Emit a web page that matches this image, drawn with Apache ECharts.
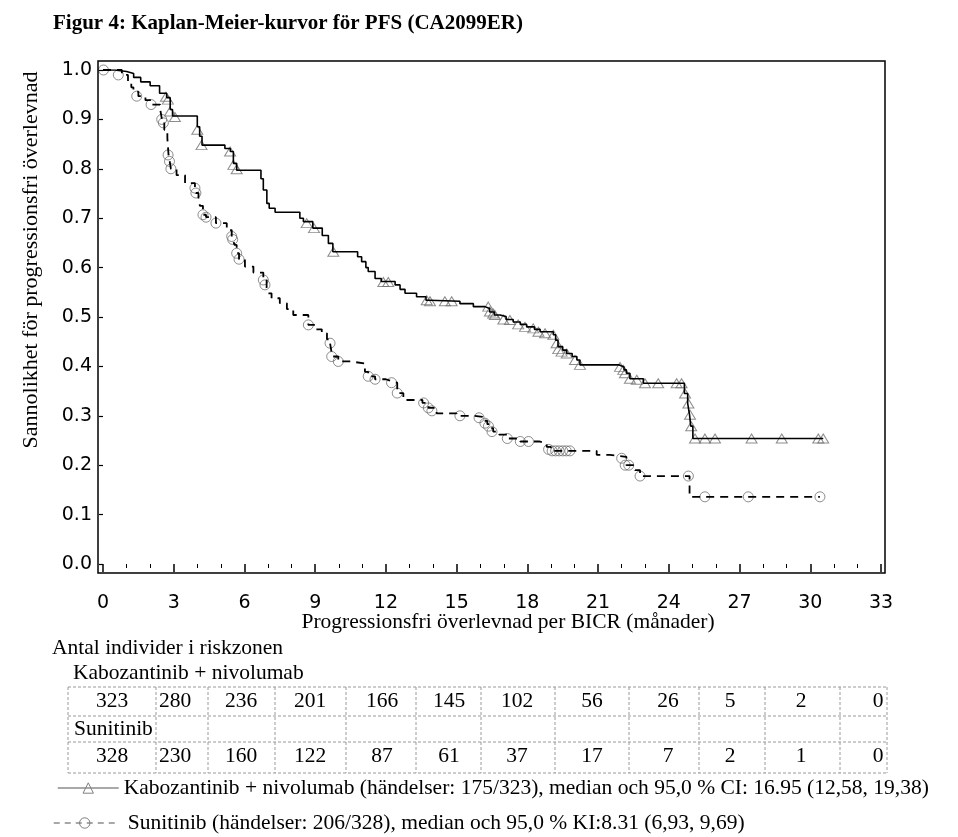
<!DOCTYPE html>
<html><head><meta charset="utf-8">
<script src="https://cdn.jsdelivr.net/npm/echarts@6/dist/echarts.min.js"></script>
<style>html,body{margin:0;padding:0;background:#fff}#c{width:958px;height:837px}</style>
</head><body><div id="c"></div>
<script>
// ---- data ----
const titleText = 'Figur 4: Kaplan-Meier-kurvor för PFS (CA2099ER)';
const yTitle = 'Sannolikhet för progressionsfri överlevnad';
const xTitle = 'Progressionsfri överlevnad per BICR (månader)';
const kaboName = 'Kabozantinib + nivolumab (händelser: 175/323), median och 95,0 % CI: 16.95 (12,58, 19,38)';
const suniName = 'Sunitinib (händelser: 206/328), median och 95,0 % KI:8.31 (6,93, 9,69)';
const kaboLabel = 'Kabozantinib + nivolumab';
const suniLabel = 'Sunitinib';
const riskTitle = 'Antal individer i riskzonen';
const riskTimes = [0,3,6,9,12,15,18,21,24,27,30,33];
const kaboRisk = [323,280,236,201,166,145,102,56,26,5,2,0];
const suniRisk = [328,230,160,122,87,61,37,17,7,2,1,0];

// KM steps [month, survival]
const kaboSteps = [[0,1],[0.5,0.997],[1.0,0.993],[1.3,0.985],[1.6,0.976],[2.0,0.968],[2.4,0.953],[2.7,0.944],[2.85,0.92],[2.95,0.907],
[4.0,0.885],[4.1,0.866],[4.2,0.848],[5.17,0.841],[5.4,0.835],[5.53,0.811],[5.67,0.797],[6.7,0.78],[6.8,0.757],[6.95,0.73],[7.05,0.72],[7.3,0.712],
[8.35,0.70],[8.5,0.693],[8.9,0.68],[9.3,0.665],[9.56,0.649],[9.75,0.632],[10.8,0.622],[10.97,0.612],[11.15,0.60],[11.25,0.592],[11.54,0.578],
[11.8,0.572],[12.39,0.565],[12.6,0.556],[12.81,0.548],[13.3,0.541],[13.7,0.534],[13.85,0.532],[15.14,0.527],[15.71,0.521],[16.2,0.517],
[16.4,0.51],[16.6,0.504],[16.84,0.501],[17.1,0.495],[17.4,0.49],[17.7,0.485],[17.97,0.48],[18.3,0.475],[18.54,0.47],[19.1,0.464],[19.2,0.453],
[19.3,0.44],[19.5,0.433],[19.67,0.426],[19.9,0.42],[20.1,0.413],[20.23,0.403],[21.9,0.399],[22.1,0.393],[22.2,0.386],[22.35,0.375],[22.92,0.366],
[24.66,0.345],[24.8,0.325],[24.88,0.302],[24.93,0.279],[25.02,0.254],[30.55,0.254]];
const kaboCensored = [[2.67,0.946],[2.75,0.94],[2.84,0.916],[3.05,0.905],[4.0,0.879],[4.18,0.848],[5.39,0.835],[5.53,0.808],[5.67,0.799],
[8.64,0.69],[8.95,0.68],[9.77,0.632],[11.89,0.571],[12.1,0.571],[13.73,0.534],[13.87,0.532],[14.5,0.532],[14.79,0.532],[16.34,0.521],
[16.41,0.511],[16.55,0.507],[16.62,0.504],[16.98,0.495],[17.26,0.494],[17.61,0.485],[17.9,0.48],[18.25,0.477],[18.47,0.47],[18.75,0.467],
[19.1,0.464],[19.24,0.447],[19.31,0.435],[19.45,0.43],[19.67,0.426],[20.02,0.413],[20.23,0.403],[21.93,0.399],[22.07,0.393],[22.14,0.386],
[22.35,0.375],[22.64,0.373],[22.99,0.366],[23.55,0.366],[24.33,0.366],[24.54,0.366],[24.69,0.345],[24.83,0.325],[24.9,0.302],[24.95,0.279],
[25.11,0.254],[25.53,0.254],[25.96,0.254],[27.51,0.254],[28.79,0.254],[30.34,0.254],[30.55,0.254]];
const suniSteps = [[0,1],[0.8,0.99],[1.06,0.975],[1.2,0.965],[1.29,0.956],[1.5,0.947],[1.8,0.939],[2.04,0.93],[2.42,0.922],[2.5,0.90],[2.6,0.879],
[2.73,0.862],[2.78,0.828],[2.84,0.812],[2.88,0.80],[3.12,0.787],[3.48,0.771],[3.9,0.761],[3.94,0.751],[4.05,0.74],[4.11,0.725],[4.24,0.707],
[4.37,0.702],[4.79,0.69],[5.25,0.676],[5.46,0.663],[5.5,0.657],[5.58,0.646],[5.67,0.629],[5.77,0.617],[6.02,0.602],[6.38,0.59],[6.8,0.575],
[6.94,0.559],[7.0,0.548],[7.15,0.538],[7.5,0.528],[7.8,0.516],[8.07,0.504],[8.71,0.484],[9.0,0.475],[9.28,0.467],[9.5,0.455],[9.63,0.447],
[9.68,0.433],[9.72,0.42],[9.98,0.41],[10.5,0.406],[11.11,0.389],[11.25,0.38],[11.54,0.374],[12.0,0.37],[12.24,0.367],[12.48,0.346],[12.74,0.332],
[13.55,0.326],[13.8,0.316],[14.15,0.305],[15.0,0.30],[15.71,0.298],[16.1,0.29],[16.3,0.283],[16.45,0.275],[16.55,0.268],[16.8,0.262],
[17.15,0.254],[17.7,0.248],[18.5,0.244],[18.82,0.237],[19.0,0.229],[20.94,0.221],[21.5,0.217],[22.2,0.2],[22.57,0.19],[22.78,0.178],
[24.88,0.136],[30.41,0.136]];
const suniCensored = [[0.02,1],[0.65,0.99],[1.43,0.947],[2.04,0.93],[2.49,0.90],[2.56,0.893],[2.76,0.828],[2.82,0.815],[2.88,0.80],[3.9,0.761],
[3.94,0.751],[4.24,0.707],[4.37,0.702],[4.79,0.69],[5.46,0.663],[5.5,0.657],[5.67,0.629],[5.77,0.617],[6.8,0.575],[6.87,0.565],[8.71,0.484],
[9.63,0.447],[9.7,0.42],[9.98,0.41],[11.25,0.38],[11.54,0.374],[12.24,0.367],[12.48,0.346],[13.6,0.326],[13.8,0.316],[13.95,0.31],[15.14,0.30],
[15.95,0.296],[16.2,0.285],[16.35,0.279],[16.5,0.268],[17.15,0.254],[17.7,0.248],[18.05,0.248],[18.9,0.232],[19.05,0.229],[19.2,0.229],
[19.35,0.229],[19.5,0.229],[19.65,0.229],[19.8,0.229],[22.0,0.214],[22.15,0.2],[22.3,0.2],[22.78,0.178],[24.83,0.178],[25.53,0.136],
[27.37,0.136],[30.41,0.136]];

// ---- layout ----
const SERIF = '"Liberation Serif", "Times New Roman", serif';
const SANS = '"DejaVu Sans", sans-serif';
const FS = 21.5;
const colBounds = [68,156,208,275,346,416,481,555,629,699,765,840,887];
const colCenters = [112,175,241,310,382,449,517,592,668,730,801,878];
const rowLines = [687,716,742,773];

const chart = echarts.init(document.getElementById('c'), null, {renderer:'canvas'});

const graphics = [];
// plot frame
graphics.push({type:'rect', shape:{x:98,y:61,width:787,height:512}, style:{fill:'none',stroke:'#000',lineWidth:1.5}, z:10});
// y title
graphics.push({type:'text', x:31, y:260, rotation:Math.PI/2, style:{text:yTitle, font:'22px '+SERIF, fill:'#000', align:'center', verticalAlign:'middle'}});
// risk table labels
graphics.push({type:'text', x:52, y:648, style:{text:riskTitle, font:FS+'px '+SERIF, fill:'#000', align:'left', verticalAlign:'middle'}});
graphics.push({type:'text', x:73, y:673, style:{text:kaboLabel, font:FS+'px '+SERIF, fill:'#000', align:'left', verticalAlign:'middle'}});
graphics.push({type:'text', x:74, y:729, style:{text:suniLabel, font:FS+'px '+SERIF, fill:'#000', align:'left', verticalAlign:'middle'}});
// table grid (dashed)
const dash = {stroke:'#9a9a9a', lineWidth:1, lineDash:[3,2]};
rowLines.forEach(y => graphics.push({type:'line', shape:{x1:colBounds[0],y1:y,x2:colBounds[colBounds.length-1],y2:y}, style:dash}));
colBounds.forEach(x => graphics.push({type:'line', shape:{x1:x,y1:rowLines[0],x2:x,y2:rowLines[3]}, style:dash}));
// risk numbers
riskTimes.forEach((t,i) => {
  graphics.push({type:'text', x:colCenters[i], y:701, style:{text:String(kaboRisk[i]), font:FS+'px '+SERIF, fill:'#000', align:'center', verticalAlign:'middle'}});
  graphics.push({type:'text', x:colCenters[i], y:756, style:{text:String(suniRisk[i]), font:FS+'px '+SERIF, fill:'#000', align:'center', verticalAlign:'middle'}});
});

const option = {
  animation:false,
  backgroundColor:'#fff',
  title:{text:titleText, left:48, top:8, textStyle:{fontFamily:SERIF, fontWeight:'bold', fontSize:21, color:'#000'}},
  grid:{left:103, right:77, top:70, bottom:273, containLabel:false},
  xAxis:{type:'value', min:0, max:33, interval:3, offset:9,
    axisLine:{show:false},
    axisTick:{show:true, length:8, lineStyle:{color:'#000', width:1.5}},
    minorTick:{show:true, splitNumber:3, length:4, lineStyle:{color:'#000', width:1}},
    splitLine:{show:false}, minorSplitLine:{show:false},
    axisLabel:{margin:21, fontFamily:SANS, fontSize:19, color:'#000'},
    name:xTitle, nameLocation:'middle', nameGap:38, nameMoveOverlap:false,
    nameTextStyle:{fontFamily:SERIF, fontSize:FS, color:'#000', padding:[0,0,0,32]}
  },
  yAxis:{type:'value', min:0, max:1, interval:0.1, offset:5,
    axisLine:{show:false},
    axisTick:{show:true, length:4, lineStyle:{color:'#000', width:1.2}},
    splitLine:{show:false},
    axisLabel:{margin:6, fontFamily:SANS, fontSize:19, color:'#000', formatter:v=>v.toFixed(1)}
  },
  legend:[
    {data:[kaboName], left:52, top:772, orient:'horizontal', itemWidth:61, itemHeight:13, padding:5,
     textStyle:{fontFamily:SERIF, fontSize:FS, color:'#000', padding:[0,0,0,0]},
     itemStyle:{color:'rgba(0,0,0,0)', borderColor:'#808080', borderWidth:1},
     lineStyle:{color:'#8c8c8c', width:1.5, type:'solid'}},
    {data:[suniName], left:48, top:807, orient:'horizontal', itemWidth:62, itemHeight:13, padding:5,
     textStyle:{fontFamily:SERIF, fontSize:FS, color:'#000', padding:[0,0,0,7]},
     itemStyle:{color:'rgba(0,0,0,0)', borderColor:'#808080', borderWidth:1},
     lineStyle:{color:'#8c8c8c', width:1.5, type:[6,5]}}
  ],
  series:[
    {name:kaboName, type:'line', step:'end', data:kaboSteps, symbol:'triangle', showSymbol:false,
     lineStyle:{color:'#000', width:1.6, type:'solid'}, itemStyle:{color:'#000'}, z:3},
    {name:suniName, type:'line', step:'end', data:suniSteps, symbol:'circle', showSymbol:false,
     lineStyle:{color:'#000', width:1.8, type:[8,6]}, itemStyle:{color:'#000'}, z:3},
    {name:'kaboCens', type:'scatter', data:kaboCensored, symbol:'triangle', symbolSize:[11,9],
     itemStyle:{color:'rgba(0,0,0,0)', borderColor:'#707070', borderWidth:1}, z:2},
    {name:'suniCens', type:'scatter', data:suniCensored, symbol:'circle', symbolSize:10,
     itemStyle:{color:'rgba(0,0,0,0)', borderColor:'#707070', borderWidth:1}, z:2}
  ],
  graphic:graphics
};
chart.setOption(option);
</script>
</body></html>
